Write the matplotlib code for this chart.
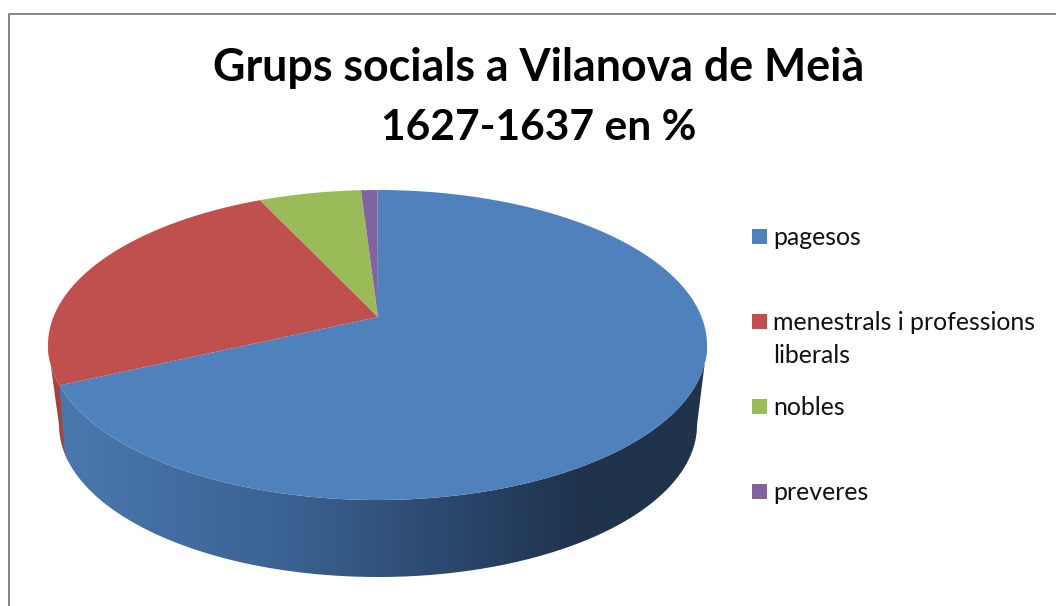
import numpy as np
import matplotlib
matplotlib.use("Agg")
import matplotlib.pyplot as plt
from matplotlib.colors import LinearSegmentedColormap
from matplotlib.lines import Line2D
from matplotlib.patches import Polygon, Rectangle

# Data
labels = [["pagesos"], ["menestrals i professions", "liberals"], ["nobles"], ["preveres"]]
values = [70.8, 23.4, 5.0, 0.8]
colors = ["#4F81BD", "#C0504D", "#9BBB59", "#8064A2"]
title_lines = ["Grups socials a Vilanova de Meià", "1627-1637 en %"]

W, H = 1056, 606
# pie geometry in pixels: the apex sits above the rim centre because of the 3D tilt
cx, cy, rx, ry = 377.5, 345, 329.5, 155
cx2, cy2, rx2, ry2 = 378, 425, 319, 152
apex = (378, 317)
wall_twist = 4  # the wall seam leans a little in the perspective view

plt.rcParams["font.family"] = ["Lato", "DejaVu Sans"]
fig = plt.figure(figsize=(W / 100, H / 100), dpi=100)
ax = fig.add_axes([0, 0, 1, 1])
ax.set_axis_off()


def rim(a0, a1, x0, y0, a, b):
    # points on an ellipse between two clockwise-from-top angles (degrees)
    t = np.radians(np.linspace(a0, a1, 300))
    return np.column_stack([x0 + a * np.sin(t), y0 - b * np.cos(t)])


def side_shape(a0, a1, b0, b1):
    top = rim(a0, a1, cx, cy, rx, ry)
    bot = rim(b0, b1, cx2, cy2, rx2, ry2)
    return np.vstack([top, bot[::-1]])


edges = np.cumsum([0] + values) / sum(values) * 360

# Top of the pie
for a0, a1, col in zip(edges[:-1], edges[1:], colors):
    ax.add_patch(Polygon(np.vstack([apex, rim(a0, a1, cx, cy, rx, ry)]), closed=True,
                         facecolor=col, edgecolor="none", zorder=5))

# Walls: only the front half (90..270 degrees) can be seen
end_blue = edges[1]

blue_cmap = LinearSegmentedColormap.from_list(
    "wall", [(0, "#4A78AE"), (0.35, "#3B6292"), (0.62, "#2A466B"),
             (0.8, "#1F334C"), (1, "#1F334C")])
blue_wall = Polygon(side_shape(90, end_blue, 90, end_blue + wall_twist), closed=True,
                    facecolor="none", edgecolor="none")
ax.add_patch(blue_wall)
grad = np.linspace(0, 1, 512).reshape(1, -1)
img = ax.imshow(grad, cmap=blue_cmap, aspect="auto", zorder=3,
                extent=[60, 708, 600, 300])
img.set_clip_path(blue_wall)

# red wall runs a little under the blue one so no gap shows at the seam
ax.add_patch(Polygon(side_shape(end_blue - 3, 270, end_blue + wall_twist - 3, 270), closed=True,
                     facecolor="#A5443F", edgecolor="none", zorder=2))
ax.set_xlim(0, W)
ax.set_ylim(H, 0)

# Title
title_y = [81, 140]
title_sizes = [32.2, 30.6]
for line, y, size in zip(title_lines, title_y, title_sizes):
    ax.text(539, y, line, ha="center", va="baseline", fontsize=size,
            fontweight="bold", color="black")

# Legend, spaced by hand as in the original
legend_y = [236.5, 321.5, 406.5, 491.5]
for lines, col, y in zip(labels, colors, legend_y):
    ax.add_patch(Rectangle((752, y - 7.5), 15, 15, facecolor=col, edgecolor="none"))
    for i, line in enumerate(lines):
        ax.text(773, y + 8.5 + 33 * i, line, ha="left", va="baseline", fontsize=17.9,
                color="#111111")

# Chart frame, runs off the right and bottom of the picture
frame_x = [8.5, 8.5, W]
frame_y = [H, 14, 14]
fig.add_artist(Line2D(frame_x, frame_y, transform=ax.transData, color="#868686", lw=1.4))

fig.savefig("out.png", dpi=100)
